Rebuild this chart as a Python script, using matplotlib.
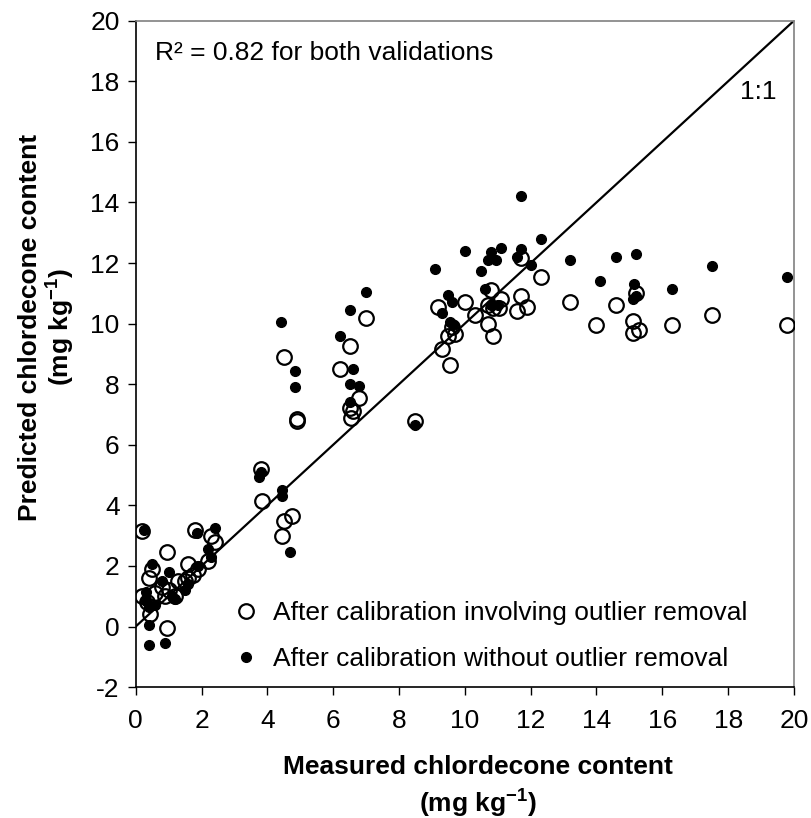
import matplotlib
matplotlib.use("Agg")
import matplotlib.pyplot as plt

plt.rcParams['font.family'] = ['Liberation Sans', 'DejaVu Sans']
plt.rcParams['axes.unicode_minus'] = False
plt.rcParams['mathtext.fontset'] = 'custom'
plt.rcParams['mathtext.rm'] = 'Liberation Sans'
plt.rcParams['mathtext.bf'] = 'Liberation Sans:bold'

# After calibration involving outlier removal (open circles)
open_x = [13.2, 14.0, 14.6, 15.1, 15.1, 15.3, 15.2, 16.3, 17.5, 19.8,
          12.3, 11.7, 11.7, 11.6, 11.9, 11.1, 11.05, 10.8, 10.7, 10.7,
          10.85, 10.3, 10.0, 9.6, 9.7, 9.5, 9.55, 9.3, 9.2, 10.85,
          8.5, 7.0, 6.8, 6.5, 6.2, 6.5, 6.55, 6.6, 4.9, 4.9,
          4.5, 3.8, 3.85, 4.5, 4.75, 4.45,
          0.2, 1.8, 2.3, 2.4, 0.95, 2.2, 1.9, 1.6, 1.75, 1.5,
          1.3, 0.4, 0.5, 0.2, 0.35, 0.6, 0.8, 0.9, 1.0, 0.45,
          0.95, 1.2, 1.6]
open_y = [10.7, 9.95, 10.6, 10.1, 9.7, 9.8, 11.0, 9.95, 10.3, 9.95,
          11.55, 12.15, 10.9, 10.4, 10.55, 10.8, 10.5, 11.1, 10.6, 10.0,
          9.6, 10.3, 10.7, 9.9, 9.65, 9.6, 8.65, 9.15, 10.55, 10.5,
          6.8, 10.2, 7.55, 9.25, 8.5, 7.2, 6.9, 7.1, 6.85, 6.8,
          8.9, 5.2, 4.15, 3.5, 3.65, 3.0,
          3.15, 3.2, 3.0, 2.8, 2.45, 2.15, 1.9, 2.05, 1.7, 1.5,
          1.5, 1.6, 1.9, 1.0, 0.8, 1.1, 1.3, 1.0, 1.2, 0.4,
          -0.05, 1.0, 1.6]

# After calibration without outlier removal (filled dots)
fill_x = [11.7, 12.3, 13.2, 14.1, 14.6, 15.2, 15.15, 15.1, 15.2, 16.3,
          17.5, 19.8, 11.7, 11.6, 12.0, 11.1, 10.95, 10.8, 10.7, 10.6,
          11.0, 10.8, 10.5, 10.0, 9.1, 9.3, 9.5, 9.6, 9.65, 9.55,
          8.5, 7.0, 6.2, 6.5, 6.6, 6.8, 6.5, 6.5, 4.85, 4.85,
          4.4, 3.75, 3.8, 4.45, 4.45, 4.7,
          0.25, 1.85, 2.4, 2.2, 2.3, 1.0, 0.5, 0.3, 0.4, 0.3,
          0.6, 0.8, 1.2, 1.5, 1.6, 1.9, 0.4, 0.4, 0.9, 1.1]
fill_y = [14.2, 12.8, 12.1, 11.4, 12.2, 12.3, 11.3, 10.8, 10.9, 11.15,
          11.9, 11.55, 12.45, 12.2, 11.95, 12.5, 12.1, 12.35, 12.1, 11.15,
          10.6, 10.6, 11.75, 12.4, 11.8, 10.35, 10.95, 10.7, 9.95, 10.05,
          6.65, 11.05, 9.6, 10.45, 8.5, 7.95, 8.0, 7.4, 8.45, 7.9,
          10.05, 4.95, 5.1, 4.5, 4.3, 2.45,
          3.2, 3.1, 3.25, 2.55, 2.3, 1.8, 2.05, 1.15, 0.65, 0.85,
          0.7, 1.5, 0.9, 1.2, 1.4, 2.0, 0.05, -0.6, -0.55, 1.0]

line_x = [0, 20]
line_y = [0, 20]

FS = 19

fig = plt.figure(figsize=(8.11, 8.18), dpi=100)
ax = fig.add_axes([0.1673, 0.160, 0.8117, 0.8147])

ax.plot(line_x, line_y, color='black', lw=1.6, zorder=2)
ax.plot(open_x, open_y, 'o', ms=10.5, mfc='none', mec='black', mew=1.6,
        linestyle='none', zorder=3,
        label='After calibration involving outlier removal')
ax.plot(fill_x, fill_y, 'o', ms=7, mfc='black', mec='black',
        linestyle='none', zorder=4,
        label='After calibration without outlier removal')

ax.set_xlim(0, 20)
ax.set_ylim(-2, 20)
ax.set_xticks(range(0, 21, 2))
ax.set_yticks(range(-2, 21, 2))
ax.tick_params(direction='out', length=5.5, width=1, labelsize=FS)
ax.tick_params(axis='x', pad=10)
ax.tick_params(axis='y', pad=6)

for s in ['top', 'right']:
    ax.spines[s].set_color('#808080')
for s in ['left', 'bottom']:
    ax.spines[s].set_color('black')
for s in ax.spines.values():
    s.set_linewidth(1.2)

ax.set_xlabel('Measured chlordecone content\n(mg kg$^{\\mathbf{-1}}$)',
              fontsize=FS, fontweight='bold', linespacing=1.25)
ax.set_ylabel('Predicted chlordecone content\n(mg kg$^{\\mathbf{-1}}$)',
              fontsize=FS, fontweight='bold', linespacing=1.05)
ax.xaxis.set_label_coords(0.52, -0.1025)
ax.yaxis.set_label_coords(-0.09, 0.54)

ax.text(0.59, 18.92, 'R² = 0.82 for both validations', fontsize=FS,
        va='center', ha='left')
ax.text(18.37, 17.64, '1:1', fontsize=FS, va='center', ha='left')

ax.legend(loc='lower right', bbox_to_anchor=(0.946, 0.008), frameon=False,
          fontsize=FS, handletextpad=0.45, labelspacing=0.83,
          borderaxespad=0.0, handlelength=1.2)

fig.savefig('out.png', dpi=100)
